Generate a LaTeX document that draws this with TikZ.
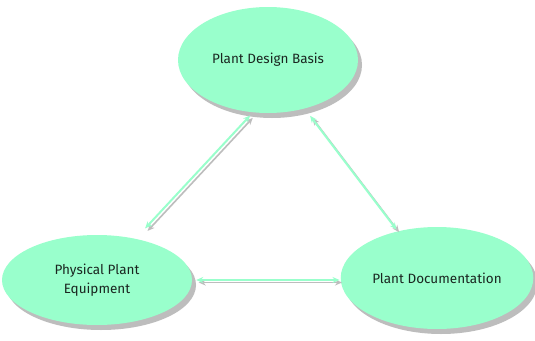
\documentclass[tikz,border=0pt]{standalone}
\usepackage{fontspec}
\setmainfont{Fira Sans}
\usetikzlibrary{shapes.geometric,shadows,arrows.meta}
\definecolor{mint}{HTML}{99FFCC}
\definecolor{shade}{HTML}{BDBDBD}
\definecolor{ink}{HTML}{1A2620}
\begin{document}
\begin{tikzpicture}[x=1pt,y=-1pt,
  bubble/.style={ellipse, fill=mint, draw=none, text=ink, font=\fontsize{13.5}{19}\selectfont, align=center,
     drop shadow={shadow xshift=4pt, shadow yshift=-5pt, fill=shade, opacity=1}},
  link/.style={draw=mint, line width=2pt, {Stealth[length=7pt,width=6pt]}-{Stealth[length=7pt,width=6pt]}},
  linkshade/.style={draw=shade, line width=1.6pt, {Stealth[length=7pt,width=6pt]}-{Stealth[length=7pt,width=6pt]},
     transform canvas={xshift=2.5pt, yshift=-2.5pt}}
]
\useasboundingbox (0,0) rectangle (535,340);
\fill[white] (0,0) rectangle (535,340);
\node[bubble, minimum width=180pt, minimum height=106pt] (pdb) at (268,60) {Plant Design Basis};
\node[bubble, minimum width=190pt, minimum height=90pt] (ppe) at (97,280) {Physical Plant\\Equipment};
\node[bubble, minimum width=180pt, minimum height=102pt] (pd) at (437,278) {Plant Documentation};
% shadows of connectors
\draw[linkshade, shorten <=4pt, shorten >=14pt] (pdb.254) -- (ppe.47);
\draw[linkshade, shorten <=9pt, shorten >=2pt] (pdb.307) -- (pd.130);
\draw[linkshade, shorten <=4pt, shorten >=1pt] (ppe.east) -- (pd.west |- ppe.east);
% connectors
\draw[link, shorten <=4pt, shorten >=14pt] (pdb.254) -- (ppe.47);
\draw[link, shorten <=9pt, shorten >=2pt] (pdb.307) -- (pd.130);
\draw[link, shorten <=4pt, shorten >=1pt] (ppe.east) -- (pd.west |- ppe.east);
\end{tikzpicture}
\end{document}
